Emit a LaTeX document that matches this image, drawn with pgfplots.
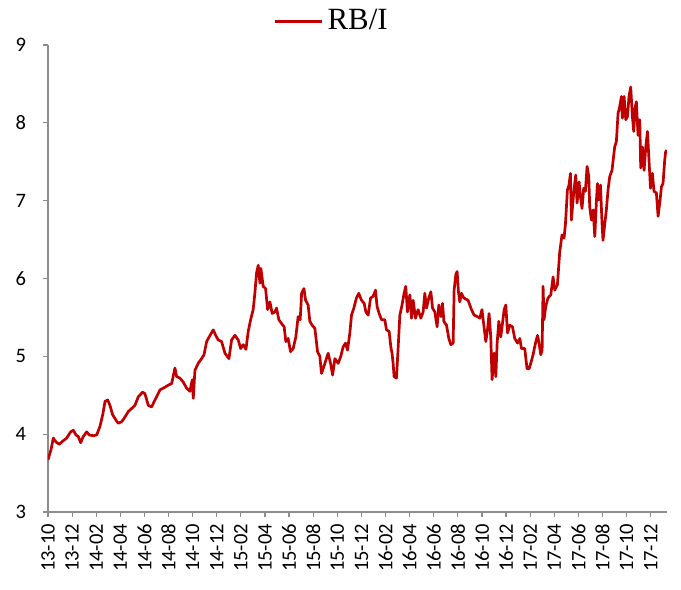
\documentclass[border=0pt]{standalone}
\usepackage{pgfplots}
\pgfplotsset{compat=1.18}
\usepackage{fontspec}
\setmainfont{Liberation Serif}
\newfontfamily\carlito{Carlito}
\definecolor{linered}{HTML}{C00000}
\definecolor{axisgray}{HTML}{8C8C8C}
\begin{document}
\begin{tikzpicture}
\useasboundingbox (-24bp,-39bp) rectangle (316.5bp,256bp);
\begin{axis}[
  scale only axis,
  width=309.5bp, height=233.5bp,
  xmin=0, xmax=51.35, ymin=3, ymax=9,
  axis lines*=left,
  axis line style={axisgray, line width=0.6bp},
  tick style={axisgray, line width=0.6bp},
  tick align=outside,
  major tick length=2.5bp,
  xtick={0,2,...,50},
  xticklabels={13-10,13-12,14-02,14-04,14-06,14-08,14-10,14-12,15-02,15-04,15-06,15-08,15-10,15-12,16-02,16-04,16-06,16-08,16-10,16-12,17-02,17-04,17-06,17-08,17-10,17-12},
  ytick={3,...,9},
  ticklabel style={font=\carlito\fontsize{10.3}{12}\selectfont},
  xticklabel style={rotate=90, anchor=east},
  yticklabel style={xshift=-5bp},
  /pgf/number format/assume math mode=true,
  legend style={at={(0.46,1.051)}, anchor=center, draw=none, fill=none,
    font=\fontsize{15.5}{18}\selectfont, inner sep=0pt},
  legend image code/.code={\draw[#1] (0bp,0bp) -- (23.5bp,0bp);},
]
\addplot[linered, line width=1.35bp, line join=round] coordinates {
(0.00,3.67) (0.25,3.80) (0.44,3.95) (0.66,3.90) (0.94,3.87) (1.14,3.90) (1.55,3.95) (1.88,4.03)
(2.10,4.05) (2.32,3.99) (2.51,3.97) (2.71,3.89) (2.93,3.97) (3.21,4.03) (3.42,3.99) (3.76,3.98)
(4.04,3.99) (4.31,4.10) (4.54,4.25) (4.73,4.42) (4.95,4.44) (5.14,4.37) (5.36,4.25) (5.64,4.18)
(5.83,4.14) (6.11,4.16) (6.30,4.20) (6.66,4.29) (6.94,4.33) (7.21,4.37) (7.49,4.48) (7.85,4.54)
(8.04,4.52) (8.32,4.37) (8.60,4.35) (8.81,4.42) (9.01,4.48) (9.29,4.57) (9.56,4.59) (9.98,4.63)
(10.26,4.65) (10.53,4.85) (10.67,4.74) (10.95,4.72) (11.22,4.67) (11.50,4.59) (11.77,4.55) (11.97,4.70)
(12.05,4.46) (12.19,4.82) (12.46,4.91) (12.74,4.97) (12.94,5.02) (13.16,5.19) (13.37,5.25) (13.71,5.34)
(13.91,5.27) (14.12,5.21) (14.40,5.19) (14.68,5.04) (15.01,4.97) (15.23,5.21) (15.51,5.27) (15.78,5.21)
(15.98,5.10) (16.19,5.15) (16.42,5.09) (16.61,5.32) (16.81,5.47) (17.02,5.60) (17.16,5.81) (17.30,6.07)
(17.44,6.17) (17.58,5.94) (17.66,6.13) (17.85,5.90) (18.05,5.87) (18.22,5.60) (18.41,5.70) (18.60,5.55)
(18.82,5.57) (18.96,5.62) (19.15,5.47) (19.38,5.42) (19.59,5.38) (19.73,5.19) (19.92,5.23) (20.12,5.06)
(20.34,5.10) (20.56,5.25) (20.75,5.51) (20.92,5.47) (21.04,5.81) (21.23,5.87) (21.37,5.72) (21.58,5.66)
(21.72,5.45) (21.91,5.40) (22.14,5.36) (22.36,5.06) (22.55,5.00) (22.69,4.78) (22.89,4.87) (23.05,4.95)
(23.24,5.04) (23.44,4.91) (23.61,4.76) (23.80,4.97) (24.07,4.91) (24.29,5.00) (24.48,5.12) (24.68,5.17)
(24.85,5.08) (25.04,5.30) (25.18,5.53) (25.37,5.62) (25.59,5.75) (25.78,5.81) (26.01,5.72) (26.23,5.68)
(26.37,5.57) (26.56,5.53) (26.76,5.75) (26.97,5.77) (27.17,5.85) (27.30,5.64) (27.47,5.55) (27.67,5.47)
(27.94,5.47) (28.08,5.34) (28.30,5.32) (28.44,5.12) (28.54,5.04) (28.63,4.91) (28.71,4.74) (28.91,4.72)
(29.05,5.12) (29.19,5.53) (29.37,5.66) (29.54,5.81) (29.68,5.90) (29.82,5.57) (30.02,5.79) (30.16,5.49)
(30.29,5.72) (30.49,5.49) (30.70,5.60) (30.93,5.49) (31.12,5.57) (31.26,5.81) (31.40,5.62) (31.59,5.75)
(31.76,5.83) (31.90,5.62) (32.09,5.57) (32.28,5.38) (32.42,5.66) (32.59,5.51) (32.73,5.68) (32.84,5.45)
(33.06,5.40) (33.25,5.23) (33.42,5.15) (33.61,5.17) (33.69,5.85) (33.83,6.05) (33.94,6.09) (34.05,5.83)
(34.16,5.70) (34.30,5.81) (34.49,5.75) (34.85,5.72) (35.13,5.60) (35.35,5.53) (35.63,5.51) (35.82,5.49)
(36.00,5.60) (36.17,5.38) (36.32,5.19) (36.46,5.34) (36.59,5.55) (36.73,5.25) (36.84,4.70) (37.01,5.04)
(37.15,4.74) (37.26,5.17) (37.40,5.45) (37.56,5.25) (37.70,5.42) (37.84,5.60) (37.98,5.66) (38.12,5.30)
(38.31,5.40) (38.53,5.38) (38.72,5.23) (38.95,5.17) (39.14,5.23) (39.28,5.10) (39.55,5.10) (39.74,4.84)
(39.91,4.84) (40.05,4.91) (40.24,5.02) (40.44,5.17) (40.61,5.27) (40.71,5.19) (40.88,5.02) (40.99,5.08)
(41.07,5.90) (41.15,5.47) (41.29,5.64) (41.48,5.75) (41.71,5.79) (41.90,6.02) (42.04,5.85) (42.26,5.92)
(42.45,6.34) (42.64,6.56) (42.81,6.52) (42.93,6.71) (43.09,7.14) (43.22,7.20) (43.34,7.35) (43.42,6.75)
(43.61,7.10) (43.78,7.33) (43.89,6.97) (44.06,7.24) (44.17,7.05) (44.30,6.90) (44.44,7.16) (44.58,7.12)
(44.72,7.44) (44.86,7.31) (44.94,6.92) (45.08,6.75) (45.22,6.88) (45.36,6.54) (45.50,7.01) (45.58,7.22)
(45.69,7.01) (45.83,7.20) (45.96,6.71) (46.04,6.49) (46.18,6.69) (46.32,6.88) (46.46,7.14) (46.60,7.31)
(46.79,7.39) (46.87,7.50) (47.01,7.69) (47.15,7.76) (47.29,8.12) (47.43,8.21) (47.57,8.34) (47.65,8.06)
(47.79,8.34) (47.93,8.04) (48.07,8.08) (48.20,8.34) (48.34,8.46) (48.48,8.08) (48.59,7.89) (48.70,8.19)
(48.81,8.27) (48.95,7.84) (49.09,8.04) (49.17,7.42) (49.31,7.69) (49.45,7.39) (49.59,7.69) (49.73,7.89)
(49.84,7.57) (49.98,7.16) (50.14,7.35) (50.27,7.12) (50.47,7.10) (50.61,6.80) (50.75,6.97) (50.89,7.18)
(51.02,7.22) (51.16,7.52) (51.24,7.63) (51.33,7.65)
};
\addlegendentry{RB/I}
\end{axis}
\end{tikzpicture}
\end{document}
